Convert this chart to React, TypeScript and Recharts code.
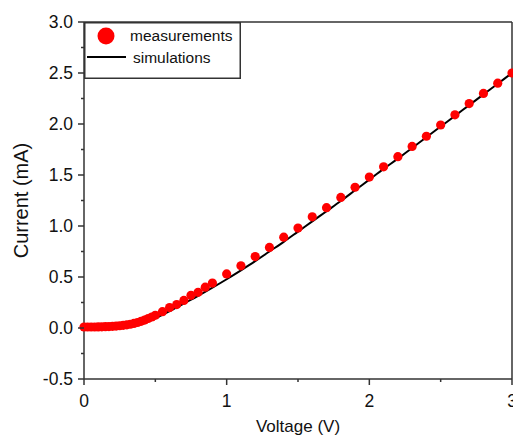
import { ComposedChart, Legend, Line, ReferenceLine, Scatter, XAxis, YAxis } from "recharts";

const FONT = "'Liberation Sans', Arial, sans-serif";
const AXIS = "#333";

// measured I-V points
const measVoltage = [
  0, 0.025, 0.05, 0.075, 0.1, 0.125, 0.15, 0.175, 0.2, 0.225, 0.25, 0.275, 0.3, 0.325, 0.35, 0.375, 0.4,
  0.425, 0.45, 0.475, 0.5, 0.55, 0.6, 0.65, 0.7, 0.75, 0.8, 0.85, 0.9, 1.0, 1.1, 1.2, 1.3, 1.4, 1.5, 1.6,
  1.7, 1.8, 1.9, 2.0, 2.1, 2.2, 2.3, 2.4, 2.5, 2.6, 2.7, 2.8, 2.9, 3.0,
];
const measCurrent = [
  0.01, 0.01, 0.01, 0.01, 0.011, 0.012, 0.013, 0.014, 0.016, 0.019, 0.022, 0.026, 0.031, 0.037, 0.045, 0.054,
  0.065, 0.078, 0.093, 0.108, 0.125, 0.16, 0.2, 0.23, 0.27, 0.32, 0.35, 0.4, 0.44, 0.53, 0.61, 0.7, 0.79,
  0.89, 0.98, 1.09, 1.18, 1.28, 1.38, 1.48, 1.58, 1.68, 1.78, 1.88, 1.99, 2.09, 2.2, 2.3, 2.4, 2.5,
];

// simulated curve
const simVoltage = [
  0, 0.1, 0.2, 0.3, 0.4, 0.5, 0.6, 0.7, 0.8, 0.9, 1.0, 1.1, 1.2, 1.3, 1.4, 1.5, 1.6, 1.7, 1.8, 1.9, 2.0,
  2.1, 2.2, 2.3, 2.4, 2.5, 2.6, 2.7, 2.8, 2.9, 3.0,
];
const simCurrent = [
  0, 0.001, 0.004, 0.012, 0.04, 0.095, 0.165, 0.24, 0.315, 0.395, 0.478, 0.565, 0.655, 0.75, 0.845, 0.945,
  1.045, 1.145, 1.245, 1.35, 1.455, 1.56, 1.66, 1.765, 1.87, 1.975, 2.08, 2.185, 2.29, 2.395, 2.5,
];

const xTicks = [0, 0.5, 1, 1.5, 2, 2.5, 3];
const yTicks = [-0.5, -0.25, 0, 0.25, 0.5, 0.75, 1, 1.25, 1.5, 1.75, 2, 2.25, 2.5, 2.75, 3];

const measurements = measVoltage.map((v, i) => ({ v, i: measCurrent[i] }));
const simulations = simVoltage.map((v, i) => ({ v, i: simCurrent[i] }));

function XTick(props: any) {
  const { x, y, payload } = props;
  const major = Number.isInteger(payload.value);
  return (
    <g>
      <line x1={x} x2={x} y1={y} y2={y + (major ? 6 : 3)} stroke={AXIS} strokeWidth={1.5} />
      {major && (
        <text x={x} y={y + 22} textAnchor="middle" dominantBaseline="central" fontSize={17.5} fontFamily={FONT} fill="#111">
          {payload.value}
        </text>
      )}
    </g>
  );
}

function YTick(props: any) {
  const { x, y, payload } = props;
  const major = Math.abs(payload.value * 2 - Math.round(payload.value * 2)) < 1e-9;
  return (
    <g>
      <line x1={x} x2={x - (major ? 6 : 3)} y1={y} y2={y} stroke={AXIS} strokeWidth={1.5} />
      {major && (
        <text x={x - 11} y={y} textAnchor="end" dominantBaseline="central" fontSize={17.5} fontFamily={FONT} fill="#111">
          {payload.value.toFixed(1)}
        </text>
      )}
    </g>
  );
}

function Dot(props: any) {
  const { cx, cy } = props;
  return <circle cx={cx} cy={cy} r={4.6} fill="#ff0000" />;
}

function LegendBox() {
  return (
    <svg width={157} height={57} style={{ display: "block" }}>
      <rect x={0.75} y={0.75} width={155.5} height={55.5} fill="#fff" stroke={AXIS} strokeWidth={1.5} />
      <circle cx={22} cy={14} r={8.5} fill="#ff0000" />
      <text x={46} y={13} dominantBaseline="central" fontSize={15.5} fontFamily={FONT} fill="#111">
        measurements
      </text>
      <line x1={3} x2={42} y1={35} y2={35} stroke="#000" strokeWidth={2} />
      <text x={49} y={35} dominantBaseline="central" fontSize={15.5} fontFamily={FONT} fill="#111">
        simulations
      </text>
    </svg>
  );
}

export default function App() {
  return (
    <div style={{ position: "fixed", left: 0, top: 0, width: 513, height: 440, background: "#fff" }}>
      <ComposedChart width={513} height={440} margin={{ top: 22, right: 1, left: 0, bottom: 0 }}>
        <XAxis
          type="number"
          dataKey="v"
          domain={[0, 3]}
          ticks={xTicks}
          interval={0}
          height={61}
          tickSize={0}
          tickMargin={0}
          tickLine={false}
          axisLine={{ stroke: AXIS, strokeWidth: 1.5 }}
          tick={<XTick />}
          label={{ value: "Voltage (V)", position: "insideBottom", offset: 8, fontSize: 17, fontFamily: FONT, fill: "#111" }}
        />
        <YAxis
          type="number"
          dataKey="i"
          domain={[-0.5, 3]}
          ticks={yTicks}
          interval={0}
          width={84}
          tickSize={0}
          tickMargin={0}
          tickLine={false}
          axisLine={{ stroke: AXIS, strokeWidth: 1.5 }}
          tick={<YTick />}
          label={{ value: "Current (mA)", angle: -90, position: "insideLeft", offset: 21, fontSize: 20, fontFamily: FONT, fill: "#111", style: { textAnchor: "middle" } }}
        />
        <ReferenceLine y={3} stroke={AXIS} strokeWidth={1.5} />
        <ReferenceLine x={3} stroke={AXIS} strokeWidth={1.5} />
        <Scatter name="measurements" data={measurements} shape={<Dot />} isAnimationActive={false} />
        <Line
          name="simulations"
          data={simulations}
          dataKey="i"
          type="monotone"
          stroke="#000"
          strokeWidth={2}
          dot={false}
          activeDot={false}
          isAnimationActive={false}
        />
        <Legend
          layout="horizontal"
          verticalAlign="middle"
          align="center"
          wrapperStyle={{ left: 84, top: 22, width: 157, height: 57 }}
          content={() => <LegendBox />}
        />
      </ComposedChart>
    </div>
  );
}
